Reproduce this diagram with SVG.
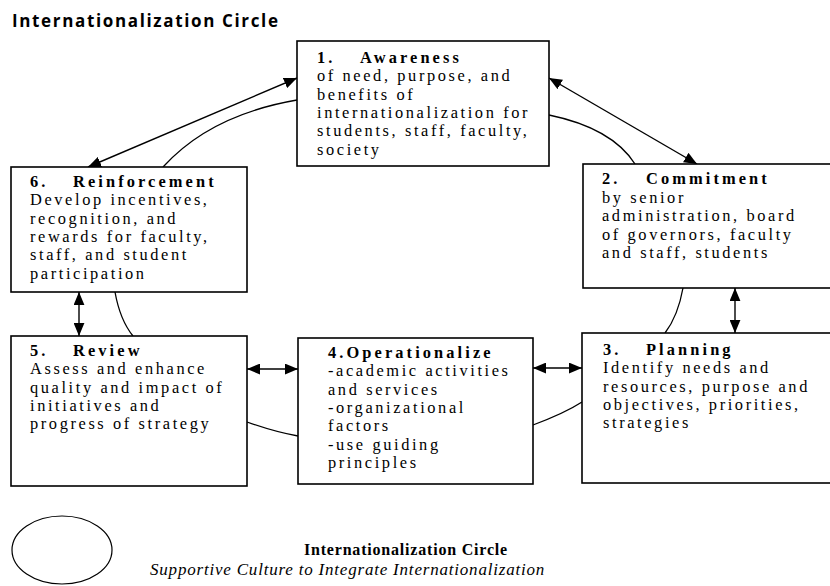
<svg xmlns="http://www.w3.org/2000/svg" width="830" height="586" viewBox="0 0 830 586">
<defs>
<marker id="ah" viewBox="0 0 12 10" refX="12" refY="5" markerWidth="13" markerHeight="11" markerUnits="userSpaceOnUse" orient="auto-start-reverse">
<path d="M0,0 L12,5 L0,10 Z" fill="#000"/>
</marker>
</defs>
<style>
.box{fill:#fff;stroke:#000;stroke-width:1.6}
.t{font-family:"Liberation Serif","Times New Roman",serif;font-size:16.4px;letter-spacing:2.6px;fill:#000}
.h{font-weight:bold;letter-spacing:3.1px}
.arr{fill:none;stroke:#000;stroke-width:1.4;marker-start:url(#ah);marker-end:url(#ah)}
.cv{fill:none;stroke:#000;stroke-width:1.3}
</style>
<rect width="830" height="586" fill="#fff"/>
<text x="12" y="27" font-family="'Open Sans','Liberation Sans',sans-serif" font-weight="bold" font-size="17" textLength="266" lengthAdjust="spacing">Internationalization Circle</text>

<g id="connectors">
<line class="arr" x1="297" y1="78" x2="88" y2="167"/>
<path class="cv" d="M297,100 Q210,115 163,167"/>
<line class="arr" x1="549" y1="78" x2="697" y2="164"/>
<path class="cv" d="M549,115 Q612,128 635,164"/>
<line class="arr" x1="735" y1="288" x2="735" y2="333"/>
<path class="cv" d="M683,288 Q678,316 665,333"/>
<line class="arr" x1="533" y1="368" x2="582" y2="368"/>
<path class="cv" d="M582,402 Q565,413 533,425"/>
<line class="arr" x1="247" y1="369" x2="298" y2="369"/>
<path class="cv" d="M247,422 Q275,432 298,436"/>
<line class="arr" x1="79" y1="292" x2="79" y2="336"/>
<path class="cv" d="M115,292 Q120,320 133,336"/>
</g>

<g id="node1">
<rect class="box" x="297" y="41" width="252" height="125"/>
<text class="t"><tspan class="h" x="317" y="63">1.</tspan><tspan class="h" x="360" y="63">Awareness</tspan>
<tspan x="317" y="81.3">of need, purpose, and</tspan>
<tspan x="317" y="99.6">benefits of</tspan>
<tspan x="317" y="117.9">internationalization for</tspan>
<tspan x="317" y="136.2">students, staff, faculty,</tspan>
<tspan x="317" y="154.5">society</tspan></text>
</g>

<g id="node2">
<rect class="box" x="583" y="164" width="260" height="124"/>
<text class="t"><tspan class="h" x="602" y="184">2.</tspan><tspan class="h" x="646" y="184">Commitment</tspan>
<tspan x="602" y="202.5">by senior</tspan>
<tspan x="602" y="221">administration, board</tspan>
<tspan x="602" y="239.5">of governors, faculty</tspan>
<tspan x="602" y="258">and staff, students</tspan></text>
</g>

<g id="node3">
<rect class="box" x="582" y="333" width="260" height="150"/>
<text class="t"><tspan class="h" x="603" y="355">3.</tspan><tspan class="h" x="646" y="355">Planning</tspan>
<tspan x="603" y="373.3">Identify needs and</tspan>
<tspan x="603" y="391.6">resources, purpose and</tspan>
<tspan x="603" y="409.9">objectives, priorities,</tspan>
<tspan x="603" y="428.2">strategies</tspan></text>
</g>

<g id="node4">
<rect class="box" x="298" y="338" width="235" height="146"/>
<text class="t"><tspan class="h" x="328" y="358">4.Operationalize</tspan>
<tspan x="328" y="376.3">-academic activities</tspan>
<tspan x="328" y="394.6">and services</tspan>
<tspan x="328" y="412.9">-organizational</tspan>
<tspan x="328" y="431.2">factors</tspan>
<tspan x="328" y="449.5">-use guiding</tspan>
<tspan x="328" y="467.8">principles</tspan></text>
</g>

<g id="node5">
<rect class="box" x="11" y="336" width="236" height="150"/>
<text class="t"><tspan class="h" x="30" y="356">5.</tspan><tspan class="h" x="73" y="356">Review</tspan>
<tspan x="30" y="374.3">Assess and enhance</tspan>
<tspan x="30" y="392.6">quality and impact of</tspan>
<tspan x="30" y="410.9">initiatives and</tspan>
<tspan x="30" y="429.2">progress of strategy</tspan></text>
</g>

<g id="node6">
<rect class="box" x="11" y="167" width="236" height="125"/>
<text class="t"><tspan class="h" x="30" y="187">6.</tspan><tspan class="h" x="73" y="187">Reinforcement</tspan>
<tspan x="30" y="205.3">Develop incentives,</tspan>
<tspan x="30" y="223.6">recognition, and</tspan>
<tspan x="30" y="241.9">rewards for faculty,</tspan>
<tspan x="30" y="260.2">staff, and student</tspan>
<tspan x="30" y="278.5">participation</tspan></text>
</g>

<g id="legend">
<text x="406" y="555" text-anchor="middle" font-family="'Liberation Serif','Times New Roman',serif" font-weight="bold" font-size="16" letter-spacing="0.8">Internationalization Circle</text>
<ellipse cx="62" cy="550" rx="50" ry="34" fill="none" stroke="#000" stroke-width="1.2"/>
<text x="150" y="575" font-family="'Liberation Serif','Times New Roman',serif" font-style="italic" font-size="17" letter-spacing="0.8">Supportive Culture to Integrate Internationalization</text>
</g>
</svg>
